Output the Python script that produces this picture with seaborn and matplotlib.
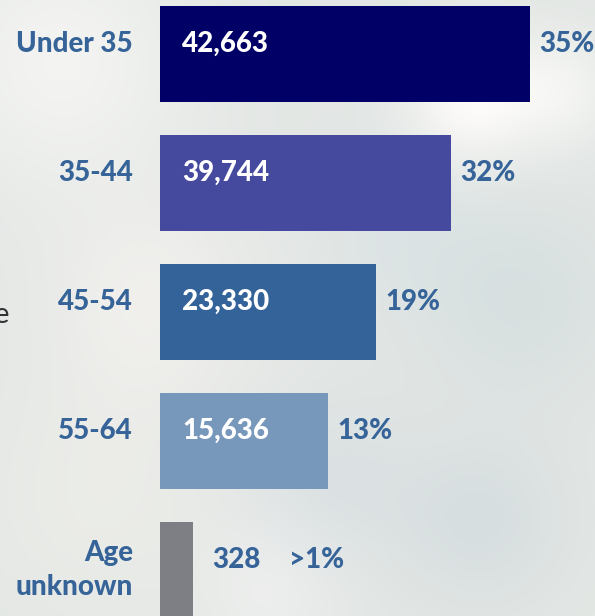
import numpy as np
import pandas as pd
import matplotlib
matplotlib.use("Agg")
import matplotlib.pyplot as plt
import seaborn as sns

# ---- data ----
categories = ["Under 35", "35-44", "45-54", "55-64", "Age\nunknown"]
counts = [42663, 39744, 23330, 15636, 328]
count_labels = ["42,663", "39,744", "23,330", "15,636", "328"]
pct_labels = ["35%", "32%", "19%", "13%", ">1%"]
# displayed bar lengths (relative, as drawn in the graphic; longest = 100)
bar_length = [100, 78.6, 58.4, 45.4, 8.9]
bar_colors = ["#000066", "#454a9e", "#336399", "#7797bb", "#7e7f84"]

label_blue = "#366499"

sns.set_theme(style="white")
plt.rcParams["font.family"] = ["Lato", "DejaVu Sans"]

W, H = 595, 616
fig = plt.figure(figsize=(W / 100, H / 100), dpi=100)

# ---- blurred photo-like background ----
bg = fig.add_axes([0, 0, 1, 1], zorder=0)
yy, xx = np.mgrid[0:H, 0:W]
base = np.array([0.89, 0.905, 0.895])
img = np.ones((H, W, 3)) * base
def blob(cx, cy, r, col, a):
    g = np.exp(-(((xx - cx) ** 2 + (yy - cy) ** 2) / (2 * r ** 2)))[..., None]
    return g * a * (np.array(col) - base)
blobs = [
    (60, 60, 90, (0.97, 0.97, 0.96), 0.8),
    (150, 300, 80, (0.96, 0.95, 0.94), 0.7),
    (470, 100, 45, (1.0, 0.99, 0.98), 0.9),
    (560, 90, 40, (0.99, 0.99, 0.98), 0.6),
    (520, 300, 70, (0.80, 0.85, 0.86), 0.5),
    (330, 480, 60, (0.83, 0.86, 0.88), 0.5),
    (480, 520, 60, (0.80, 0.84, 0.86), 0.5),
    (100, 500, 90, (0.94, 0.94, 0.92), 0.6),
    (400, 230, 60, (0.84, 0.88, 0.90), 0.4),
    (270, 590, 50, (0.95, 0.95, 0.95), 0.6),
]
for b in blobs:
    img = img + blob(*b)
bg.imshow(np.clip(img, 0, 1), aspect="auto", extent=(0, W, H, 0))
bg.set_axis_off()

# ---- bars ----
left_px = 160
unit_px = 370 / 100.0
ax = fig.add_axes([left_px / W, 0, (W - left_px) / W, 1], zorder=1)
ax.patch.set_alpha(0)

df = pd.DataFrame({"category": categories, "length": bar_length})
sns.barplot(data=df, x="length", y="category", hue="category",
            palette=bar_colors, orient="h", width=96 / 129,
            legend=False, ax=ax, saturation=1, linewidth=0, edgecolor="none")

spacing = 129.0
top_center = 54.0
ax.set_xlim(0, (W - left_px) / unit_px)
ax.set_ylim((H - top_center) / spacing, -top_center / spacing)
ax.set_axis_off()

fs = 20
wt = 900
px = 72 / 100.0  # points per pixel
for i, (cat, cl, pl, L) in enumerate(zip(categories, count_labels, pct_labels, bar_length)):
    multiline = "\n" in cat
    dy = 0.0 if multiline else -10 / spacing
    # category label
    ax.annotate(cat, xy=(0, i + dy), xytext=(-27 * px, 0), textcoords="offset points",
                ha="right", va="center", fontsize=fs, fontweight=wt,
                color=label_blue, linespacing=1.35, annotation_clip=False)
    if i < 4:
        ax.annotate(cl, xy=(0, i + dy), xytext=(22 * px, 0), textcoords="offset points",
                    ha="left", va="center", fontsize=fs, fontweight=wt,
                    color="white")
        ax.annotate(pl, xy=(L, i + dy), xytext=(9 * px, 0), textcoords="offset points",
                    ha="left", va="center", fontsize=fs, fontweight=wt,
                    color=label_blue, annotation_clip=False)
    else:
        ax.annotate(cl, xy=(L, i - 10 / spacing), xytext=(19 * px, 0), textcoords="offset points",
                    ha="left", va="center", fontsize=fs, fontweight=wt,
                    color=label_blue)
        ax.annotate(pl, xy=(L, i - 10 / spacing), xytext=(96 * px, 0), textcoords="offset points",
                    ha="left", va="center", fontsize=fs, fontweight=wt,
                    color=label_blue)

# cut-off text fragment at left edge
fig.text(9 / W, 1 - 315 / H, "e", ha="right", va="center", fontsize=21,
         color="#333333", family=["Lato", "DejaVu Sans"])

fig.savefig("out.png", dpi=100)
